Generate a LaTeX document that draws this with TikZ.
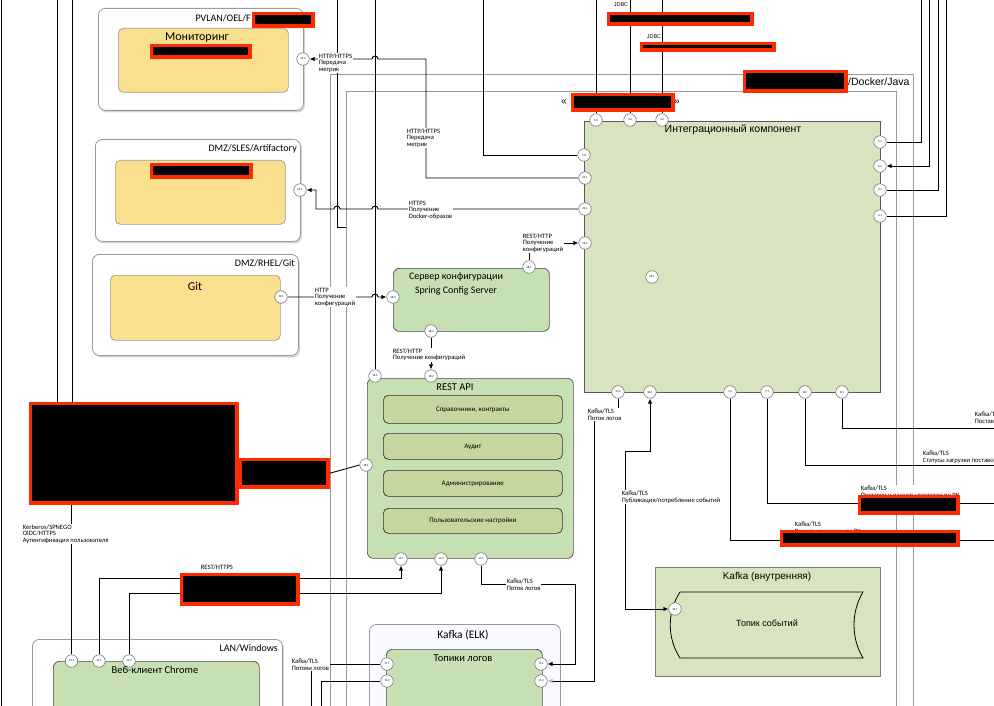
\documentclass[tikz,border=0pt]{standalone}
\usepackage{fontspec}
\setmainfont{Carlito}
\newfontfamily\arialf{Liberation Sans}
\usetikzlibrary{arrows.meta,shadows}
\definecolor{ylw}{HTML}{F9DF8E}
\definecolor{grn}{HTML}{C6E0B4}
\definecolor{olv}{HTML}{D8E4BF}
\definecolor{olvd}{HTML}{C5D69E}
\definecolor{redc}{HTML}{FF2A00}
\definecolor{frm}{HTML}{9A9A9A}
\definecolor{elk}{HTML}{F8FAFD}
\pgfdeclarelayer{back}
\pgfdeclarelayer{mid}
\pgfdeclarelayer{front}
\pgfsetlayers{back,mid,main,front}
\tikzset{
  outerbox/.style={draw=frm, line width=0.8pt, rounded corners=7pt, fill=white,
    drop shadow={opacity=0.35,shadow xshift=1.5pt,shadow yshift=-2pt}, anchor=north west, inner sep=0},
  ylwbox/.style={draw=frm, line width=0.7pt, rounded corners=5pt, fill=ylw, anchor=north west, inner sep=0},
  grnbox/.style={draw=black!70, line width=0.7pt, rounded corners=6pt, fill=grn, anchor=north west, inner sep=0},
  olvbox/.style={draw=black!65, line width=0.8pt, fill=olv, anchor=north west, inner sep=0},
  subbox/.style={draw=black!80, line width=0.7pt, rounded corners=5pt, fill=olvd, anchor=north west,
    inner sep=0, minimum width=179pt},
  port/.style={circle, draw=black!55, fill=white, line width=0.6pt, minimum size=12.5pt, inner sep=0,
    font=\fontsize{3}{3}\selectfont},
  conn/.style={draw=black, line width=0.9pt},
  arrowend/.style={-{Latex[length=5pt,width=4.5pt]}},
  lbl/.style={font=\fontsize{6.6}{6.6}\selectfont, align=left, anchor=north west, inner sep=0.6pt, fill=white},
  redact/.style={fill=black, draw=redc, line width=3.5pt, anchor=north west, inner sep=0},
  frameline/.style={draw=frm, line width=0.8pt},
  ttl/.style={font=\fontsize{10}{12}\selectfont, inner sep=0},
  subl/.style={font=\fontsize{7}{8}\selectfont, inner sep=0}
}
\begin{document}
\begin{tikzpicture}[x=1pt,y=-1pt]
\useasboundingbox (0,0) rectangle (994,706);
\clip (0,0) rectangle (994,706);

% ---------------- redactions (front) ----------------
\begin{pgfonlayer}{front}
\node[redact, minimum width=59.5pt, minimum height=12.5pt] (rd1) at (251.75,11.75) {};
\node[redact, minimum width=98.5pt, minimum height=11.5pt] (rd2) at (149.75,43.75) {};
\node[redact, minimum width=99.5pt, minimum height=12.5pt] (rd3) at (149.75,162.75) {};
\node[redact, minimum width=143.5pt, minimum height=10.5pt] (rd4) at (606.75,11.75) {};
\node[redact, minimum width=132.5pt, minimum height=6.5pt] (rd5) at (639.75,41.75) {};
\node[redact, minimum width=101.5pt, minimum height=19.5pt] (rd6) at (742.75,69.75) {};
\node[redact, minimum width=100.5pt, minimum height=15.5pt] (rd7) at (570.75,92.75) {};
\node[redact, minimum width=206.5pt, minimum height=99.5pt] (blk) at (28.75,401.75) {};
\node[redact, minimum width=87.5pt, minimum height=27.5pt] (blksm) at (238.75,457.75) {};
\node[redact, minimum width=116.5pt, minimum height=29.5pt] (rd10) at (179.75,572.75) {};
\node[redact, minimum width=98.5pt, minimum height=16.5pt] (rd11) at (857.75,494.75) {};
\node[redact, minimum width=176.5pt, minimum height=13.5pt] (rd12) at (779.75,529.75) {};
\end{pgfonlayer}

% ---------------- boxes (back) ----------------
\begin{pgfonlayer}{back}
\node[outerbox, minimum width=205pt, minimum height=102pt] (monO) at (98,8) {};
\node[ylwbox, minimum width=170pt, minimum height=64pt] (monI) at (118,28) {};
\node[outerbox, minimum width=205pt, minimum height=102pt] (artO) at (95,139) {};
\node[ylwbox, minimum width=170pt, minimum height=64pt] (artI) at (115,160) {};
\node[outerbox, minimum width=206pt, minimum height=101pt] (gitO) at (92,254) {};
\node[ylwbox, minimum width=170pt, minimum height=65pt] (gitI) at (110,275) {};
\draw[frameline] (330,720) -- (330,74) -- (913,74) -- (913,720);
\draw[frameline] (346,720) -- (346,91) -- (896,91) -- (896,720);
\node[olvbox, minimum width=296pt, minimum height=271pt] (integ) at (584,121) {};
\node[grnbox, minimum width=156pt, minimum height=63pt] (spring) at (393,268) {};
\node[grnbox, minimum width=206pt, minimum height=180pt] (rest) at (367,378) {};
\node[subbox, minimum height=28pt] (sb1) at (383,395) {};
\node[subbox, minimum height=26pt] (sb2) at (383,433) {};
\node[subbox, minimum height=26pt] (sb3) at (383,470) {};
\node[subbox, minimum height=25pt] (sb4) at (383,508) {};
\node[draw=frm!80!black, fill=olv, line width=0.8pt, anchor=north west, inner sep=0,
      minimum width=225pt, minimum height=109pt] (kint) at (655,567) {};
\draw[black, line width=0.8pt, fill=olv] (680,592) -- (863,592)
   .. controls (851,612) and (851,638) .. (863,658) -- (680,658)
   .. controls (667,638) and (667,612) .. (680,592) -- cycle;
\node[draw=frm, fill=elk, rounded corners=7pt, line width=0.8pt, anchor=north west, inner sep=0,
      minimum width=191pt, minimum height=100pt] (elkO) at (369,624) {};
\node[grnbox, minimum width=156pt, minimum height=80pt] (elkI) at (386,649) {};
\node[outerbox, minimum width=250pt, minimum height=100pt] (lanO) at (32,639) {};
\node[grnbox, minimum width=206pt, minimum height=80pt] (lanI) at (53,661) {};
\end{pgfonlayer}

% ---------------- ports ----------------
\node[port] (pM211) at (303,59) {21.1};
\node[port] (pA221) at (300,190) {22.1};
\node[port] (pG101) at (281,297) {10.1};
\node[port] (pI61) at (596,120) {6.1};
\node[port] (pI32) at (630,120) {3.2};
\node[port] (pI42) at (662,120) {4.2};
\node[port] (pI78) at (584,155) {7.8};
\node[port] (pI211) at (585,178) {21.1};
\node[port] (pI221) at (585,209) {22.1};
\node[port] (pI161) at (585,243) {16.1};
\node[port] (pI51) at (880,142) {5.1};
\node[port] (pI62) at (880,166) {6.2};
\node[port] (pI31) at (880,190) {3.1};
\node[port] (pI41) at (880,216) {4.1};
\node[port] (pI221c) at (652,277) {22.1};
\node[port] (pI172) at (618,392) {17.2};
\node[port] (pI161b) at (650,392) {16.1};
\node[port] (pI72) at (730,392) {7.2};
\node[port] (pI71) at (767,392) {7.1};
\node[port] (pI82) at (805,392) {8.2};
\node[port] (pI81) at (842,392) {8.1};
\node[port] (pS181) at (529,267) {18.1};
\node[port] (pS183) at (393,297) {18.3};
\node[port] (pS182) at (431,331) {18.2};
\node[port] (pR121) at (375,376) {12.1};
\node[port] (pR182) at (431,376) {18.2};
\node[port] (pR181) at (366,465) {18.1};
\node[port] (pR111) at (401,559) {11.1};
\node[port] (pR112) at (441,559) {11.2};
\node[port] (pR171) at (481,559) {17.1};
\node[port] (pL131) at (71.5,661) {13.1};
\node[port] (pL111) at (99,661) {11.1};
\node[port] (pL112) at (129,661) {11.2};
\node[port] (pE171l) at (387,664) {17.1};
\node[port] (pE172l) at (387,681) {17.2};
\node[port] (pE171r) at (541,664) {17.1};
\node[port] (pE172r) at (541,681) {17.2};
\node[port] (pK161) at (675,609) {16.1};

% ---------------- connectors (mid) ----------------
\begin{pgfonlayer}{mid}
\draw[conn] (1,0) -- (1,706);
\draw[conn,arrowend] (pI211.west) -- (426,178) -- (426,59) -- (378,59) arc (0:-180:3) -- (pM211.east);
\draw[conn] (483,0) |- (pI78.west);
\draw[conn,arrowend] (pI221.west) -- (378,209) arc (0:-180:3) -- (340,209) arc (0:-180:3)
   -- (316,209) -- (316,190) -- (pA221.east);
\draw[conn] (337,0) -- (337,227) -- (346,227);
\draw[conn] (375,0) -- (pR121.north);
\draw[conn,arrowend] (pG101.east) -- (372,297) arc (180:360:3) -- (pS183.west);
\draw[conn,arrowend] (pS181.north) |- (pI161.west);
\draw[conn,arrowend] (pS182.south) -- (pR182.north);
\draw[conn] (blksm.east) -- (pR181.west);
\draw[conn] (57,0) -- (blk.north -| 57,0);
\draw[conn] (72,0) -- (blk.north -| 72,0);
\draw[conn] (blk.south -| pL131) -- (pL131.north);
\draw[conn,arrowend] (pL111.north) |- (401,578) -- (pR111.south);
\draw[conn,arrowend] (pL112.north) |- (441,593) -- (pR112.south);
\draw[conn,arrowend] (pR171.south) |- (575,584) |- (pE171r.east);
\draw[conn] (pI172.south) |- (594,410);
\draw[conn,-{Latex[length=5pt,width=4.5pt,color=black!30]}] (594,410) |- (pE172r.east);
\draw[conn,{Latex[length=5pt,width=4.5pt]}-{Latex[length=5pt,width=4.5pt]}] (pI161b.south) |- (625,451) |- (pK161.west);
\draw[conn] (pI72.south) |- (994,540);
\draw[conn] (pI71.south) |- (994,503);
\draw[conn] (pI82.south) |- (994,465);
\draw[conn] (pI81.south) |- (994,428);
\draw[conn] (pI61.north) -- (596,0);
\draw[conn] (pI32.north) -- (630,0);
\draw[conn] (pI42.north) -- (662,0);
\draw[conn] (pI51.east) -| (921,0);
\draw[conn,arrowend] (929,0) |- (pI62.east);
\draw[conn] (pI31.east) -| (938,0);
\draw[conn] (pI41.east) -| (946,0);
\draw[conn] (pE171l.west) -| (311,706);
\draw[conn] (pE172l.west) -| (321,706);
\end{pgfonlayer}

% ---------------- titles ----------------
\node[ttl, anchor=east] at (251,18) {PVLAN/OEL/F};
\node[ttl, font=\fontsize{12}{14}\selectfont] at (197,38) {Мониторинг};
\node[ttl, anchor=east] at (297,149) {DMZ/SLES/Artifactory};
\node[ttl, anchor=east] at (295,263) {DMZ/RHEL/Git};
\node[ttl, font=\fontsize{12}{14}\selectfont] at (195,286) {Git};
\node[ttl, anchor=west, font=\arialf\fontsize{10.5}{12}\selectfont] at (848,82) {/Docker/Java};
\node[ttl, font=\arialf\fontsize{10}{12}\selectfont] at (564,102) {«};
\node[ttl, font=\arialf\fontsize{10}{12}\selectfont] at (677,102) {»};
\node[ttl, font=\arialf\fontsize{10.5}{12}\selectfont] at (733,130) {Интеграционный компонент};
\node[ttl, align=center, font=\fontsize{10}{14}\selectfont] at (456,284) {Сервер конфигурации\\Spring Config Server};
\node[ttl, font=\fontsize{10.5}{12}\selectfont] at (455,387) {REST API};
\node[subl] at (sb1.center) {Справочники, контракты};
\node[subl] at (sb2.center) {Аудит};
\node[subl] at (sb3.center) {Администрирование};
\node[subl] at (sb4.center) {Пользовательские настройки};
\node[ttl, font=\arialf\fontsize{10}{12}\selectfont] at (767,577) {Kafka (внутренняя)};
\node[ttl, font=\arialf\fontsize{9}{11}\selectfont] at (767,623) {Топик событий};
\node[ttl, font=\fontsize{11.5}{13}\selectfont] at (463,635) {Kafka (ELK)};
\node[ttl, font=\fontsize{10.5}{12}\selectfont] at (463,658) {Топики логов};
\node[ttl, anchor=east] at (278,648) {LAN/Windows};
\node[ttl, font=\fontsize{10.5}{12}\selectfont] at (155,670) {Веб-клиент Chrome};
\node[lbl, font=\arialf\fontsize{5.5}{6}\selectfont] at (613,2) {JDBC};
\node[lbl, font=\arialf\fontsize{5.5}{6}\selectfont] at (646,34) {JDBC};

% ---------------- connector labels ----------------
\node[lbl] at (318,53) {HTTP/HTTPS\\Передача\\метрик};
\node[lbl] at (406,128) {HTTP/HTTPS\\Передача\\метрик};
\node[lbl] at (408,200) {HTTPS\\Получение\\Docker-образов};
\node[lbl] at (314,287) {HTTP\\Получение\\конфигураций};
\node[lbl] at (522,233) {REST/HTTP\\Получение\\конфигураций};
\node[lbl] at (392,348) {REST/HTTP\\Получение конфигураций};
\node[lbl] at (22,524) {Kerberos/SPNEGO\\OIDC/HTTPS\\Аутентификация пользователя};
\node[lbl] at (200,564) {REST/HTTPS};
\node[lbl] at (506,578) {Kafka/TLS\\Поток логов};
\node[lbl] at (291,658) {Kafka/TLS\\Потоки логов};
\node[lbl] at (587,408) {Kafka/TLS\\Поток логов};
\node[lbl] at (621,490) {Kafka/TLS\\Публикация/потребление событий};
\node[lbl] at (974,411) {Kafka/TLS\\Поставки};
\node[lbl] at (922,450) {Kafka/TLS\\Статусы загрузки поставок};
\node[lbl] at (860,485) {Kafka/TLS\\Поставки и расчеты поставок по РК};
\node[lbl] at (794,521) {Kafka/TLS\\Расчеты поставок по РК};
\end{tikzpicture}
\end{document}
